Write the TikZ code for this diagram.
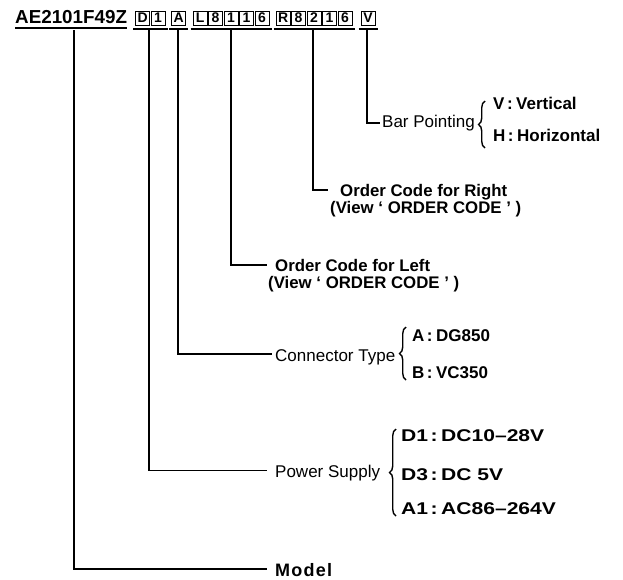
\documentclass[tikz,border=0pt]{standalone}
\usepackage{fontspec}
\setmainfont{Liberation Sans}
\newfontfamily\spacedfont[LetterSpace=7]{Liberation Sans}
\newfontfamily\widefont[FakeStretch=1.24]{Liberation Sans}
\usetikzlibrary{decorations.pathreplacing,calc}
\newcommand{\cln}{\hspace{2.5pt}:\hspace{3.5pt}}
\begin{document}
\begin{tikzpicture}[x=1pt,y=-1pt,
  ln/.style={line width=1.6pt},
  ul/.style={line width=1.8pt},
  cb/.style={draw, line width=1.2pt, minimum width=14pt, minimum height=14pt, inner sep=0pt,
    font=\bfseries\fontsize{14}{14}\selectfont, anchor=north west},
  lbl/.style={anchor=base west, inner sep=0pt, font=\fontsize{17}{17}\selectfont},
  blbl/.style={anchor=base west, inner sep=0pt, font=\bfseries\fontsize{17}{17}\selectfont},
  wlbl/.style={anchor=base west, inner sep=0pt, font=\widefont\bfseries\fontsize{17}{17}\selectfont},
  obl/.style={anchor=base west, inner sep=0pt, font=\bfseries\fontsize{16.8}{16.8}\selectfont},
  br/.style={decorate, decoration={brace, amplitude=6.5pt}, line width=1.4pt},
]
\useasboundingbox (0,0) rectangle (623,579);

% header
\node[anchor=base west, inner sep=0pt, font=\bfseries\fontsize{18.8}{18.8}\selectfont] (ae) at (15,23) {AE2101F49Z};
\node[cb] (bD) at (135,10.5) {D};
\node[cb] (b1) at (150.5,10.5) {1};
\node[cb] (bA) at (171,10.5) {A};
\node[cb] (bL) at (192.5,10.5) {L};
\node[cb] (bL8) at (208,10.5) {8};
\node[cb] (bL1) at (223.5,10.5) {1};
\node[cb] (bL1b) at (239,10.5) {1};
\node[cb] (bL6) at (254.5,10.5) {6};
\node[cb] (bR) at (275.5,10.5) {R};
\node[cb] (bR8) at (291,10.5) {8};
\node[cb] (bR2) at (306.5,10.5) {2};
\node[cb] (bR1) at (322,10.5) {1};
\node[cb] (bR6) at (337.5,10.5) {6};
\node[cb] (bV) at (360.5,10.5) {V};

% underlines
\draw[ul] ([yshift=-5pt]ae.base west) -- ([yshift=-5pt]ae.base east);
\draw[ul] ([xshift=-2pt,yshift=-3pt]bD.south west) -- ([xshift=2pt,yshift=-3pt]b1.south east);
\draw[ul] ([xshift=-2pt,yshift=-3pt]bA.south west) -- ([xshift=2pt,yshift=-3pt]bA.south east);
\draw[ul] ([xshift=-2pt,yshift=-3pt]bL.south west) -- ([xshift=2pt,yshift=-3pt]bL6.south east);
\draw[ul] ([xshift=-2pt,yshift=-3pt]bR.south west) -- ([xshift=2pt,yshift=-3pt]bR6.south east);
\draw[ul] ([xshift=-2pt,yshift=-3pt]bV.south west) -- ([xshift=2pt,yshift=-3pt]bV.south east);

% start points
\coordinate (sM) at (74,30);
\coordinate (sP) at (149,30);
\coordinate (sC) at (178,30);
\coordinate (sL) at (231,30);
\coordinate (sR) at (313,30);
\coordinate (sV) at (367,30);

% labels
\node[lbl] (bar) at (382,127) {Bar Pointing};
\node[blbl] (vv) at (493,109) {V\cln Vertical};
\node[blbl] (hh) at (493,141) {H\cln Horizontal};

\node[obl] (ocr) at (340,196.5) {Order Code for Right};
\node[obl] (vr) at (330,213) {(View ‘ ORDER CODE ’ )};

\node[obl] (ocl) at (275,271.5) {Order Code for Left};
\node[obl] (vl) at (268,288) {(View ‘ ORDER CODE ’ )};

\node[lbl] (con) at (275,361) {Connector Type};
\node[blbl] (ca) at (412,341) {A\cln DG850};
\node[blbl] (cbb) at (412,378) {B\cln VC350};

\node[lbl] (pow) at (275,477.5) {Power Supply};
\node[wlbl] (d1) at (401,441) {D1\cln DC10–28V};
\node[wlbl] (d3) at (401,480) {D3\cln DC 5V};
\node[wlbl] (a1) at (401,514) {A1\cln AC86–264V};

\node[anchor=base west, inner sep=0pt, font=\spacedfont\bfseries\fontsize{18}{18}\selectfont] (mod) at (275,576) {Model};

% connectors
\draw[ln] (sV) |- ([xshift=-2pt,yshift=4pt]bar.base west);
\draw[ln] (sR) |- ([xshift=-12pt,yshift=6.5pt]ocr.base west);
\draw[ln] (sL) |- ([xshift=-8pt,yshift=6.5pt]ocl.base west);
\draw[ln] (sC) |- ([xshift=-3pt,yshift=7pt]con.base west);
\draw[ln] (sP) |- ([xshift=-8pt,yshift=7pt]pow.base west);
\draw[ln] (sM) |- ([xshift=-8pt,yshift=7pt]mod.base west);

% braces
\draw[br] (485,148) -- (485,101);
\draw[br] (406,380) -- (406,327);
\draw[br] (396,516) -- (396,429);
\end{tikzpicture}
\end{document}
